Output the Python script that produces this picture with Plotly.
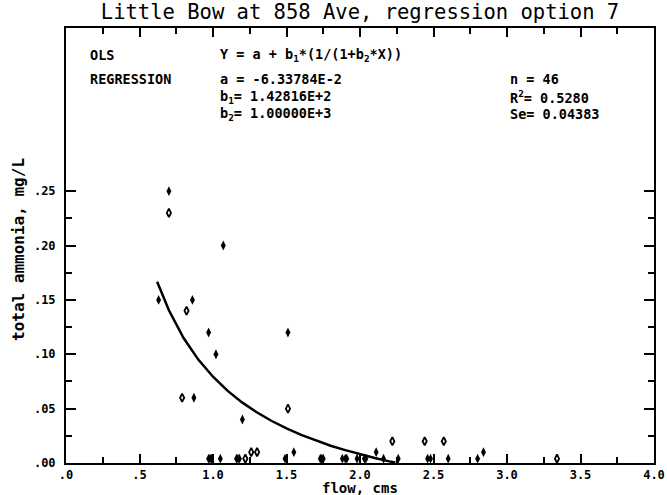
import plotly.graph_objects as go

# ---------------- data ----------------
title_text = "Little Bow at 858 Ave, regression option 7"
x_title = "flow, cms"
y_title = "total ammonia, mg/L"

x_tick_vals = [0.0, 0.5, 1.0, 1.5, 2.0, 2.5, 3.0, 3.5, 4.0]
x_tick_text = [".0", ".5", "1.0", "1.5", "2.0", "2.5", "3.0", "3.5", "4.0"]
x_minor_vals = [0.25, 0.75, 1.25, 1.75, 2.25, 2.75, 3.25, 3.75]
y_tick_vals = [0.00, 0.05, 0.10, 0.15, 0.20, 0.25]
y_tick_text = [".00", ".05", ".10", ".15", ".20", ".25"]
y_minor_vals = [0.025, 0.075, 0.125, 0.175, 0.225]

# observed values (filled diamonds)
obs_x = [0.70, 1.07, 0.63, 0.86, 0.97, 1.51, 1.02, 0.87, 1.20, 1.55, 2.11, 2.84,
         0.97, 0.99, 1.05, 1.16, 1.18, 1.49, 1.73, 1.75, 1.88, 1.91, 1.98, 2.03,
         2.16, 2.26, 2.46, 2.48, 2.60, 2.80, 1.17, 1.74, 1.90, 0.98, 2.04]
obs_y = [0.25, 0.20, 0.15, 0.15, 0.12, 0.12, 0.10, 0.06, 0.04, 0.01, 0.01, 0.01,
         0.004, 0.004, 0.004, 0.004, 0.004, 0.004, 0.004, 0.004, 0.004, 0.004, 0.004, 0.004,
         0.004, 0.004, 0.004, 0.004, 0.004, 0.004, 0.004, 0.004, 0.004, 0.004, 0.004]
# open diamonds
open_x = [0.70, 0.82, 0.79, 1.51, 1.26, 1.30, 2.22, 2.44, 2.57, 1.22, 3.34]
open_y = [0.23, 0.14, 0.06, 0.05, 0.01, 0.01, 0.02, 0.02, 0.02, 0.004, 0.004]

# fitted curve
fit_x = [0.62, 0.70, 0.80, 0.90, 1.00, 1.10, 1.20, 1.30, 1.40, 1.50,
         1.60, 1.70, 1.80, 1.90, 2.00, 2.10, 2.20, 2.24]
fit_y = [0.1666, 0.1404, 0.1149, 0.0951, 0.0793, 0.0663, 0.0555, 0.0464, 0.0386, 0.0318,
         0.0258, 0.0206, 0.0159, 0.0118, 0.0080, 0.0046, 0.0015, 0.0004]

info_left = ["OLS", "REGRESSION"]
info_mid = ["Y = a + b<sub>1</sub>*(1/(1+b<sub>2</sub>*X))", "a = -6.33784E-2",
            "b<sub>1</sub>= 1.42816E+2", "b<sub>2</sub>= 1.00000E+3"]
info_right = ["n = 46", "R<sup>2</sup>= 0.5280", "Se= 0.04383"]

# ---------------- figure ----------------
MONO = "DejaVu Sans Mono"
W, H = 667, 495
PL, PR, PT, PB = 66, 654, 28, 463   # plot area in page pixels
L, R, T, B = PL, W - PR, PT, H - PB
pw, ph = PR - PL, PB - PT

fig = go.Figure()

fig.add_trace(go.Scatter(x=fit_x, y=fit_y, mode="lines",
                         line=dict(color="black", width=2.5), hoverinfo="skip"))
fig.add_trace(go.Scatter(x=obs_x, y=obs_y, mode="markers",
                         marker=dict(symbol="diamond-tall", size=7, color="black",
                                     line=dict(width=0))))
fig.add_trace(go.Scatter(x=open_x, y=open_y, mode="markers",
                         marker=dict(symbol="diamond-tall-open", size=6, color="black",
                                     line=dict(width=1.8, color="black"))))

ann_font = dict(family=MONO, size=13.5, color="black")
anns = []
left_y = [0.375, 0.353]
for t, yy in zip(info_left, left_y):
    anns.append(dict(x=0.15, y=yy, text="<b>%s</b>" % t))
mid_y = [0.375, 0.353, 0.3365, 0.321]
for t, yy in zip(info_mid, mid_y):
    anns.append(dict(x=1.034, y=yy, text="<b>%s</b>" % t))
right_y = [0.353, 0.3365, 0.321]
for t, yy in zip(info_right, right_y):
    anns.append(dict(x=3.007, y=yy, text="<b>%s</b>" % t))
for a in anns:
    a.update(xref="x", yref="y", xanchor="left", yanchor="middle",
             showarrow=False, font=ann_font)

# axis titles as paper annotations (page pixel positions converted to paper)
anns.append(dict(x=(360 - PL) / pw, y=(PB - 488) / ph, xref="paper", yref="paper",
                 xanchor="center", yanchor="middle", showarrow=False,
                 text="<b>%s</b>" % x_title, font=dict(family=MONO, size=14, color="black")))
anns.append(dict(x=(18 - PL) / pw, y=(PB - 250) / ph, xref="paper", yref="paper",
                 xanchor="center", yanchor="middle", showarrow=False, textangle=-90,
                 text="<b>%s</b>" % y_title, font=dict(family=MONO, size=16, color="black")))

tick_font = dict(family=MONO, size=12, color="black", weight="bold")

fig.update_layout(
    width=W, height=H,
    margin=dict(l=L, r=R, t=T, b=B, autoexpand=False),
    paper_bgcolor="white", plot_bgcolor="white",
    showlegend=False,
    title=dict(text=title_text, x=0.5, xref="paper", y=1 - 12 / H,
               yref="container", xanchor="center", yanchor="middle",
               font=dict(family=MONO, size=20.5, color="black")),
    annotations=anns,
    xaxis=dict(range=[0, 4], showgrid=False, zeroline=False, automargin=False,
               showline=True, linecolor="black", linewidth=2, mirror="ticks",
               ticks="inside", ticklen=9, tickwidth=2, tickcolor="black",
               tickvals=x_tick_vals, ticktext=x_tick_text,
               minor=dict(tickvals=x_minor_vals, ticks="inside", ticklen=6,
                          tickwidth=2, tickcolor="black", showgrid=False),
               tickfont=tick_font),
    yaxis=dict(range=[0, 0.40], showgrid=False, zeroline=False, automargin=False,
               showline=True, linecolor="black", linewidth=2, mirror="ticks",
               ticks="inside", ticklen=10, tickwidth=2, tickcolor="black",
               tickvals=y_tick_vals, ticktext=y_tick_text, ticklabelstandoff=6,
               minor=dict(tickvals=y_minor_vals, ticks="inside", ticklen=6,
                          tickwidth=2, tickcolor="black", showgrid=False),
               tickfont=tick_font),
    yaxis2=dict(range=[0, 0.40], overlaying="y", side="left", showgrid=False,
                zeroline=False, automargin=False, showline=False,
                ticks="outside", ticklen=5, tickwidth=2, tickcolor="black",
                tickvals=y_tick_vals, showticklabels=False),
)

fig.write_html("out.html", config={"displayModeBar": False},
               post_script="document.body.style.margin='0';document.body.style.padding='0';")
